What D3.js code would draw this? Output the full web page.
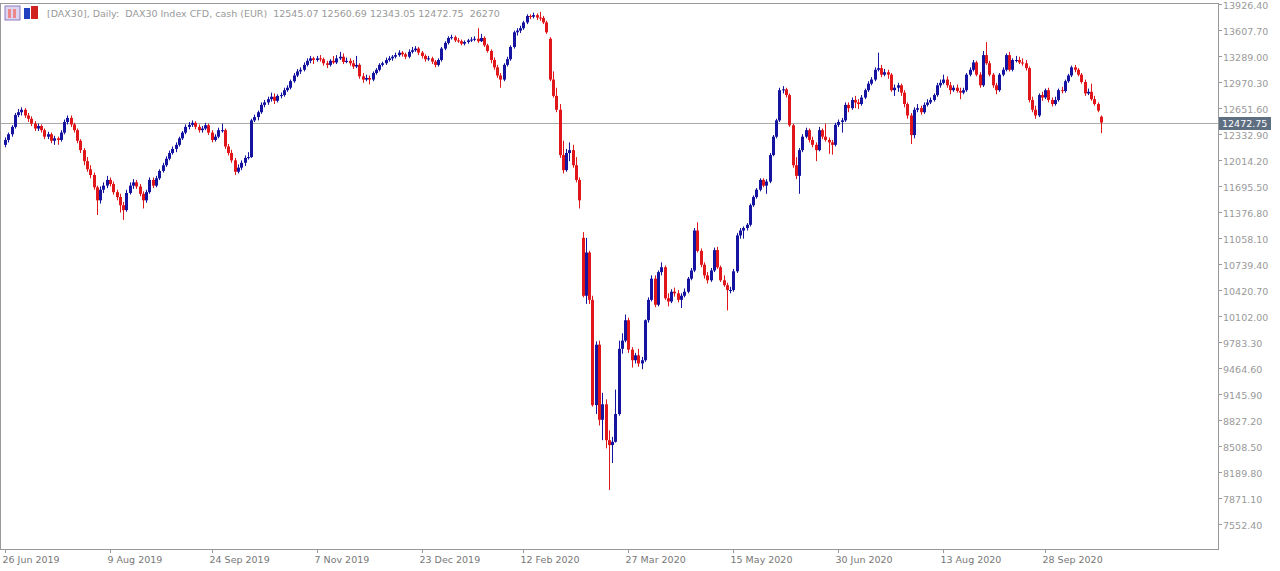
<!DOCTYPE html>
<html>
<head>
<meta charset="utf-8">
<script src="https://cdn.jsdelivr.net/npm/d3@7"></script>
<style>
  body { margin: 0; background: #fff; }
  text { font-family: "DejaVu Sans", sans-serif; font-size: 9.5px; fill: #999; }
</style>
</head>
<body>
<svg id="chart" width="1280" height="571"></svg>
<script>
// daily candles [open, high, low, close], oldest first
var candles = [
[12200,12290,12170,12260],[12260,12350,12230,12330],[12330,12440,12300,12420],[12420,12590,12400,12565],[12565,12640,12540,12600],
[12600,12660,12560,12630],[12630,12650,12530,12560],[12560,12590,12480,12520],[12520,12550,12430,12460],[12460,12490,12370,12400],
[12400,12460,12370,12430],[12430,12450,12350,12380],[12380,12400,12270,12300],[12300,12360,12270,12330],[12330,12350,12220,12250],
[12250,12310,12200,12280],[12280,12300,12200,12260],[12260,12380,12240,12350],[12350,12510,12330,12480],[12480,12560,12450,12530],
[12530,12560,12420,12450],[12450,12470,12350,12380],[12380,12400,12220,12250],[12250,12270,12100,12135],[12135,12160,11950,12000],
[12000,12050,11870,11900],[11900,11950,11790,11830],[11830,11860,11650,11680],[11680,11700,11340,11520],[11520,11690,11480,11650],
[11650,11740,11610,11700],[11700,11820,11670,11770],[11770,11800,11690,11720],[11720,11750,11590,11620],[11620,11650,11520,11560],
[11560,11600,11370,11460],[11460,11500,11280,11400],[11400,11650,11380,11610],[11610,11740,11590,11700],[11700,11780,11660,11740],
[11740,11770,11660,11690],[11690,11720,11570,11600],[11600,11630,11420,11520],[11520,11650,11490,11620],[11620,11800,11600,11770],
[11770,11800,11670,11700],[11700,11820,11680,11790],[11790,11900,11770,11880],[11880,11980,11860,11950],[11950,12060,11930,12030],
[12030,12130,12010,12100],[12100,12180,12080,12150],[12150,12230,12110,12200],[12200,12300,12180,12280],[12280,12370,12260,12350],
[12350,12450,12330,12420],[12420,12480,12390,12445],[12445,12500,12420,12470],[12470,12490,12390,12420],[12420,12450,12350,12380],
[12380,12430,12350,12400],[12400,12470,12380,12440],[12440,12460,12320,12350],[12350,12380,12230,12260],[12260,12330,12240,12300],
[12300,12410,12280,12380],[12380,12460,12350,12380],[12380,12400,12150,12180],[12180,12210,12070,12100],[12100,12140,11980,12010],
[12010,12040,11830,11870],[11870,11960,11850,11920],[11920,12010,11890,11980],[11980,12070,11940,12040],[12040,12110,12020,12050],
[12050,12520,12040,12500],[12500,12570,12480,12540],[12540,12620,12500,12600],[12600,12720,12580,12690],[12690,12750,12660,12720],
[12720,12790,12690,12760],[12760,12840,12730,12790],[12790,12830,12700,12740],[12740,12820,12720,12800],[12800,12840,12770,12810],
[12810,12900,12790,12870],[12870,12930,12850,12900],[12900,13000,12880,12980],[12980,13080,12960,13050],[13050,13130,13030,13100],
[13100,13150,13070,13120],[13120,13210,13100,13180],[13180,13260,13160,13230],[13230,13290,13200,13260],[13260,13280,13190,13240],
[13240,13290,13220,13260],[13260,13300,13220,13250],[13250,13270,13170,13200],[13200,13230,13140,13180],[13180,13250,13160,13230],
[13230,13290,13190,13210],[13210,13300,13190,13260],[13260,13340,13240,13280],[13280,13320,13190,13215],[13215,13270,13200,13230],
[13230,13260,13170,13200],[13200,13240,13130,13160],[13160,13290,13140,13180],[13180,13200,13010,13040],[13040,13080,12960,13000],
[13000,13060,12980,13020],[13020,13050,12940,13000],[13000,13100,12980,13080],[13080,13140,13060,13120],[13120,13200,13100,13180],
[13180,13220,13160,13200],[13200,13270,13180,13240],[13240,13290,13220,13260],[13260,13300,13230,13280],[13280,13330,13260,13300],
[13300,13360,13280,13330],[13330,13350,13280,13310],[13310,13330,13250,13280],[13280,13370,13260,13340],[13340,13400,13320,13360],
[13360,13410,13340,13380],[13380,13400,13300,13330],[13330,13350,13260,13290],[13290,13310,13220,13250],[13250,13290,13230,13260],
[13260,13280,13190,13220],[13220,13240,13150,13180],[13180,13260,13160,13240],[13240,13400,13220,13380],[13380,13470,13360,13450],
[13450,13530,13430,13510],[13510,13550,13490,13520],[13520,13540,13460,13480],[13480,13510,13450,13470],[13470,13490,13420,13440],
[13440,13480,13420,13460],[13460,13500,13440,13480],[13480,13520,13460,13490],[13490,13530,13470,13500],[13500,13630,13450,13470],
[13470,13560,13460,13510],[13510,13530,13400,13420],[13420,13440,13330,13350],[13350,13370,13200,13240],[13240,13270,13120,13150],
[13150,13180,13020,13050],[13050,13080,12900,13000],[13000,13200,12980,13180],[13180,13280,13160,13250],[13250,13420,13230,13400],
[13400,13600,13380,13580],[13580,13630,13540,13600],[13600,13660,13570,13630],[13630,13720,13610,13700],[13700,13800,13680,13780],
[13780,13800,13740,13770],[13770,13820,13750,13790],[13790,13810,13730,13760],[13760,13830,13720,13755],[13755,13780,13680,13700],
[13700,13720,13560,13580],[13500,13520,12980,13000],[13000,13100,12780,12800],[12800,12900,12600,12630],[12630,12700,12040,12075],
[12075,12250,11850,11890],[11890,12150,11870,12100],[12100,12230,12000,12135],[12135,12200,11920,11950],[11950,12050,11740,11770],
[11770,11800,11420,11520],[11060,11130,10330,10350],[10350,11060,10250,10880],[10880,10900,10250,10300],[10300,10350,8990,9010],
[9010,9790,8900,9750],[9750,9800,8760,8830],[8830,9160,8580,9020],[9020,9080,8480,8580],[8580,8700,7970,8520],
[8520,8620,8300,8560],[8560,9200,8550,8900],[8900,9800,8880,9700],[9700,9890,9640,9800],[9800,10120,9780,10050],
[10050,10080,9650,9690],[9690,9720,9470,9560],[9560,9650,9520,9620],[9620,9700,9480,9520],[9520,9600,9450,9560],
[9560,10060,9540,10050],[10050,10330,10020,10300],[10300,10600,10280,10560],[10560,10600,10210,10240],[10240,10660,10220,10640],
[10640,10760,10600,10700],[10700,10720,10300,10320],[10320,10380,10220,10280],[10280,10430,10260,10400],[10400,10450,10340,10380],
[10380,10420,10270,10300],[10300,10380,10200,10350],[10350,10440,10330,10400],[10400,10580,10380,10560],[10560,10690,10540,10660],
[10660,11180,10640,11150],[11150,11250,10880,10900],[10900,10930,10700,10730],[10730,10760,10560,10600],[10600,10640,10500,10540],
[10540,10690,10520,10660],[10660,10940,10640,10910],[10910,10950,10680,10700],[10700,10720,10520,10540],[10540,10600,10460,10480],
[10480,10510,10170,10420],[10420,10460,10380,10420],[10420,10680,10400,10650],[10650,11120,10630,11090],[11090,11180,11050,11150],
[11150,11200,11050,11180],[11180,11240,11150,11220],[11220,11480,11200,11460],[11460,11580,11440,11560],[11560,11670,11540,11650],
[11650,11790,11630,11770],[11770,11790,11680,11700],[11700,11780,11600,11750],[11750,12100,11730,12075],[12075,12320,12060,12300],
[12300,12520,12280,12500],[12500,12900,12480,12870],[12870,12920,12830,12880],[12880,12900,12780,12810],[12810,12830,12420,12440],
[12440,12460,11920,11950],[11950,12050,11780,11820],[11820,12160,11600,12135],[12135,12330,12110,12300],[12300,12410,12280,12380],
[12380,12400,12230,12260],[12260,12300,12170,12200],[12200,12230,12000,12135],[12135,12420,12120,12380],[12380,12400,12270,12300],
[12300,12460,12240,12260],[12260,12290,12090,12230],[12230,12260,12080,12200],[12200,12470,12180,12445],[12445,12510,12420,12480],
[12480,12530,12350,12500],[12500,12720,12480,12690],[12690,12720,12600,12650],[12650,12780,12630,12750],[12750,12800,12650,12720],
[12720,12760,12640,12700],[12700,12810,12680,12780],[12780,12890,12760,12870],[12870,12980,12850,12950],[12950,13030,12930,13000],
[13000,13150,12980,13120],[13120,13330,13100,13140],[13140,13180,13030,13060],[13060,13130,13040,13090],[13090,13120,13010,13060],
[13060,13080,12850,12870],[12870,12940,12800,12900],[12900,12960,12850,12930],[12930,12950,12800,12840],[12840,12870,12660,12700],
[12700,12720,12520,12560],[12560,12590,12210,12320],[12320,12660,12280,12630],[12630,12700,12600,12650],[12650,12680,12570,12600],
[12600,12720,12580,12690],[12690,12760,12670,12720],[12720,12780,12700,12750],[12750,12830,12730,12810],[12810,12960,12790,12930],
[12930,13000,12900,12960],[12960,13060,12940,13000],[13000,13040,12900,12930],[12930,12970,12820,12870],[12870,12930,12850,12900],
[12900,12940,12840,12860],[12860,12900,12760,12840],[12840,12900,12820,12870],[12870,13080,12850,13060],[13060,13150,13040,13120],
[13120,13240,13100,13210],[13210,13230,13040,13060],[13060,13090,12900,12930],[12930,13350,12910,13300],[13300,13460,13180,13200],
[13200,13230,13040,13060],[13060,13080,12900,12930],[12930,12960,12820,12870],[12870,13080,12850,13060],[13060,13150,13040,13120],
[13120,13320,13100,13300],[13300,13340,13100,13120],[13120,13260,13100,13240],[13240,13290,13210,13240],[13240,13280,13190,13210],
[13210,13260,13170,13200],[13200,13240,13110,13140],[13140,13160,12720,12750],[12750,12790,12600,12630],[12630,12680,12520,12560],
[12560,12830,12540,12810],[12810,12850,12740,12780],[12780,12890,12760,12870],[12870,12900,12720,12750],[12750,12780,12670,12700],
[12700,12790,12680,12750],[12750,12890,12730,12870],[12870,12910,12830,12860],[12860,13000,12840,12980],[12980,13070,12960,13050],
[13050,13170,13030,13150],[13150,13180,13090,13120],[13120,13140,13040,13060],[13060,13080,12950,12970],[12970,13000,12800,12830],
[12830,12890,12810,12850],[12850,12950,12740,12760],[12760,12800,12680,12700],[12700,12720,12600,12620],[12545.07,12560.69,12343.05,12472.75]
];
var priceTicks = [13926.40,13607.70,13289.00,12970.30,12651.60,12332.90,12014.20,11695.50,11376.80,11058.10,10739.40,
  10420.70,10102.00,9783.30,9464.60,9145.90,8827.20,8508.50,8189.80,7871.10,7552.40];
var dateLabels = ["26 Jun 2019","9 Aug 2019","24 Sep 2019","7 Nov 2019","23 Dec 2019","12 Feb 2020",
  "27 Mar 2020","15 May 2020","30 Jun 2020","13 Aug 2020","28 Sep 2020"];
var dateIndex = [0,32,63,95,127,158,190,222,254,286,317];
var lastPrice = 12472.75;

var svg = d3.select("#chart");
var plotRight = 1218, plotBottom = 549;
var x = d3.scaleLinear().domain([0, candles.length - 1]).range([5, 1101]);
var y = d3.scaleLinear().domain([7552.4, 13926.4]).range([524, 4]);

// frame
svg.append("rect").attr("x", 0.5).attr("y", 3.5).attr("width", plotRight).attr("height", plotBottom - 3)
  .attr("fill", "none").attr("stroke", "#999");

// current price line
var ly = Math.round(y(lastPrice));
svg.append("line").attr("x1", 1).attr("x2", plotRight).attr("y1", ly + 0.5).attr("y2", ly + 0.5)
  .attr("stroke", "#aaa");

// candles
var g = svg.append("g");
var c = g.selectAll("g").data(candles).enter().append("g");
function col(d) { return d[3] >= d[0] ? "#1414a0" : "#e0161a"; }
c.append("line")
  .attr("x1", function (d, i) { return Math.round(x(i)) + 0.5; })
  .attr("x2", function (d, i) { return Math.round(x(i)) + 0.5; })
  .attr("y1", function (d) { return y(d[1]); })
  .attr("y2", function (d) { return y(d[2]); })
  .attr("stroke", col);
c.append("rect")
  .attr("x", function (d, i) { return Math.round(x(i)) - 1; })
  .attr("width", 3)
  .attr("y", function (d) { return y(Math.max(d[0], d[3])); })
  .attr("height", function (d) { return Math.max(1, Math.abs(y(d[0]) - y(d[3]))); })
  .attr("fill", col);

// price axis
var ya = svg.append("g");
priceTicks.forEach(function (p) {
  var yy = Math.round(y(p)) + 0.5;
  ya.append("line").attr("x1", plotRight).attr("x2", plotRight + 4).attr("y1", yy).attr("y2", yy).attr("stroke", "#999");
  ya.append("text").attr("x", 1223).attr("y", yy + 4).text(p.toFixed(2));
});
svg.append("rect").attr("x", plotRight + 1).attr("y", ly - 6).attr("width", 52).attr("height", 13).attr("fill", "#5f6f82");
svg.append("text").attr("x", 1222).attr("y", ly + 4).style("fill", "#fff").text(lastPrice.toFixed(2));

// date axis
dateLabels.forEach(function (t, k) {
  var xx = Math.round(x(dateIndex[k])) + 0.5;
  svg.append("line").attr("x1", xx).attr("x2", xx).attr("y1", plotBottom).attr("y2", plotBottom + 4).attr("stroke", "#999");
  svg.append("text").attr("x", xx - 3).attr("y", 563).style("fill", "#777").text(t);
});

// header
svg.append("rect").attr("x", 5).attr("y", 6).attr("width", 15).attr("height", 14).attr("fill", "#dcd4f0").attr("stroke", "#8a7cc0");
svg.append("rect").attr("x", 8).attr("y", 9).attr("width", 3).attr("height", 9).attr("fill", "#e88");
svg.append("rect").attr("x", 13).attr("y", 9).attr("width", 3).attr("height", 9).attr("fill", "#e88");
svg.append("rect").attr("x", 24).attr("y", 8).attr("width", 6).attr("height", 11).attr("fill", "#2040c0");
svg.append("rect").attr("x", 31).attr("y", 6).attr("width", 7).attr("height", 13).attr("fill", "#d02020");
svg.append("text").attr("x", 47).attr("y", 17).style("fill", "#999")
  .text("[DAX30], Daily:  DAX30 Index CFD, cash (EUR)  12545.07 12560.69 12343.05 12472.75  26270")
  .attr("xml:space", "preserve").style("white-space", "pre");
</script>
</body>
</html>
